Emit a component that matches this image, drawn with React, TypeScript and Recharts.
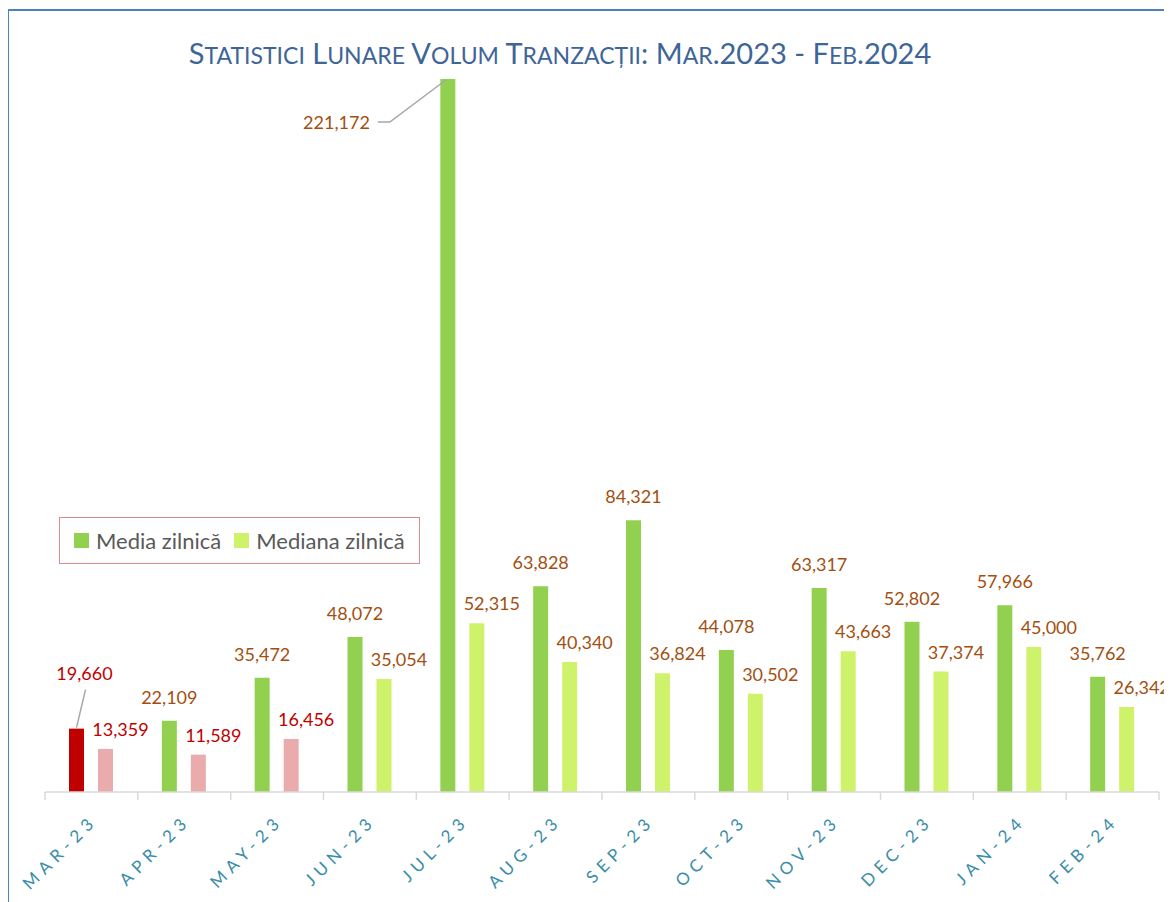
import { Bar, BarChart, Cell, LabelList, Legend, XAxis, YAxis } from 'recharts'

const months = ['MAR-23', 'APR-23', 'MAY-23', 'JUN-23', 'JUL-23', 'AUG-23', 'SEP-23', 'OCT-23', 'NOV-23', 'DEC-23', 'JAN-24', 'FEB-24']
const mediaZilnica = [19660, 22109, 35472, 48072, 221172, 63828, 84321, 44078, 63317, 52802, 57966, 35762]
const medianaZilnica = [13359, 11589, 16456, 35054, 52315, 40340, 36824, 30502, 43663, 37374, 45000, 26342]
// luni marcate cu rosu
const lowMediaMonths = ['MAR-23']
const lowMedianaMonths = ['MAR-23', 'APR-23', 'MAY-23']

const title = 'Statistici Lunare Volum Tranzacții: Mar.2023 - Feb.2024'

const data = months.map((m, i) => ({ month: m, media: mediaZilnica[i], mediana: medianaZilnica[i] }))

const W = 1164
const H = 894
const LEFT = 37
const RIGHT = 13
const TOP = 71
const AXIS_Y = 784
const BAND = (W - LEFT - RIGHT) / months.length

const GREEN = '#92d050'
const LIGHT = '#cff26b'
const RED = '#c00000'
const PINK = '#e9abab'
const BROWN = '#a34f10'
const FONT = 'Lato, "Open Sans", sans-serif'

const fmt = (v: number) => v.toLocaleString('en-US')

function MonthTick(props: any) {
  const { x, payload } = props
  const idx = props.index ?? payload.index
  const half = BAND / 2
  const tx = x + 7
  const ty = AXIS_Y + 30
  return (
    <g>
      <line x1={x - half} x2={x - half} y1={AXIS_Y} y2={AXIS_Y + 8} stroke="#d9d9d9" strokeWidth={1.5} />
      {idx === months.length - 1 && (
        <line x1={x + half} x2={x + half} y1={AXIS_Y} y2={AXIS_Y + 8} stroke="#d9d9d9" strokeWidth={1.5} />
      )}
      <text
        x={tx}
        y={ty}
        transform={`rotate(-45 ${tx} ${ty})`}
        textAnchor="end"
        fill="#3a8ea8"
        fontSize={17}
        fontFamily={FONT}
        letterSpacing={5.5}
      >
        {payload.value}
      </text>
    </g>
  )
}

function MediaLabel(props: any) {
  const { x, y, width, value, index } = props
  const cx = x + width / 2
  const color = lowMediaMonths.includes(months[index]) ? RED : BROWN
  if (index === 0) {
    return (
      <g>
        <line x1={cx} y1={y - 1} x2={cx + 9} y2={y - 39} stroke="#a6a6a6" strokeWidth={1.5} />
        <text x={cx + 8} y={y - 49} textAnchor="middle" fill={color} fontSize={18} fontFamily={FONT}>
          {fmt(value)}
        </text>
      </g>
    )
  }
  if (index === 4) {
    return (
      <g>
        <polyline
          points={`${cx - 2},${y + 1} ${cx - 58},${y + 43} ${cx - 70},${y + 43}`}
          fill="none"
          stroke="#a6a6a6"
          strokeWidth={1.5}
        />
        <text x={cx - 78} y={y + 50} textAnchor="end" fill={color} fontSize={18} fontFamily={FONT}>
          {fmt(value)}
        </text>
      </g>
    )
  }
  return (
    <text x={cx} y={y - 17} textAnchor="middle" fill={color} fontSize={18} fontFamily={FONT}>
      {fmt(value)}
    </text>
  )
}

function MedianaLabel(props: any) {
  const { x, y, width, value, index } = props
  const color = lowMedianaMonths.includes(months[index]) ? RED : BROWN
  return (
    <text x={x + width / 2 + 15} y={y - 13} textAnchor="middle" fill={color} fontSize={18} fontFamily={FONT}>
      {fmt(value)}
    </text>
  )
}

function LegendBox({ payload }: any) {
  return (
    <div
      style={{
        display: 'flex',
        alignItems: 'center',
        height: 45,
        padding: '0 14px',
        border: '1.5px solid #d98a8a',
        fontFamily: FONT,
        fontSize: 22,
        color: '#595959',
        background: '#fff',
        whiteSpace: 'nowrap',
      }}
    >
      {(payload ?? []).map((p: any, i: number) => (
        <span key={p.value} style={{ display: 'flex', alignItems: 'center', marginLeft: i ? 13 : 0 }}>
          <span style={{ width: 15, height: 15, background: p.color, marginRight: 7, display: 'inline-block' }} />
          {p.value}
        </span>
      ))}
    </div>
  )
}

function Title() {
  // majuscule mici, ca in original
  const parts = Array.from(title).map((ch, i) => {
    const small = ch !== ch.toUpperCase()
    return (
      <span key={i} style={{ fontSize: small ? 23 : 29 }}>
        {ch.toUpperCase()}
      </span>
    )
  })
  return (
    <div
      style={{
        position: 'absolute',
        left: 0,
        top: 25,
        width: 1104,
        textAlign: 'center',
        lineHeight: '40px',
        fontFamily: FONT,
        color: '#3e6597',
        whiteSpace: 'nowrap',
      }}
    >
      {parts}
    </div>
  )
}

export default function App() {
  return (
    <div style={{ position: 'relative', width: W, height: H }}>
      <BarChart
        width={W}
        height={H}
        data={data}
        margin={{ top: TOP, right: RIGHT, left: LEFT, bottom: 10 }}
        barSize={15}
        barGap={14}
      >
        <XAxis
          dataKey="month"
          interval={0}
          height={100}
          tick={<MonthTick />}
          tickLine={false}
          axisLine={{ stroke: '#d9d9d9', strokeWidth: 1.5 }}
        />
        <YAxis hide domain={[0, 221172]} />
        <Legend
          layout="horizontal"
          verticalAlign="middle"
          align="center"
          content={<LegendBox />}
          wrapperStyle={{ left: 51, top: 509, width: 'auto' }}
        />
        <Bar dataKey="media" name="Media zilnică" fill={GREEN} isAnimationActive={false}>
          {months.map((m) => (
            <Cell key={m} fill={lowMediaMonths.includes(m) ? RED : GREEN} />
          ))}
          <LabelList dataKey="media" content={<MediaLabel />} />
        </Bar>
        <Bar dataKey="mediana" name="Mediana zilnică" fill={LIGHT} isAnimationActive={false}>
          {months.map((m) => (
            <Cell key={m} fill={lowMedianaMonths.includes(m) ? PINK : LIGHT} />
          ))}
          <LabelList dataKey="mediana" content={<MedianaLabel />} />
        </Bar>
      </BarChart>
      <Title />
      <div style={{ position: 'absolute', left: -1, top: 1, width: 2, height: H, background: '#4f81bd' }} />
      <div style={{ position: 'absolute', left: -1, top: 1, width: W + 2, height: 2, background: '#4f81bd' }} />
    </div>
  )
}
